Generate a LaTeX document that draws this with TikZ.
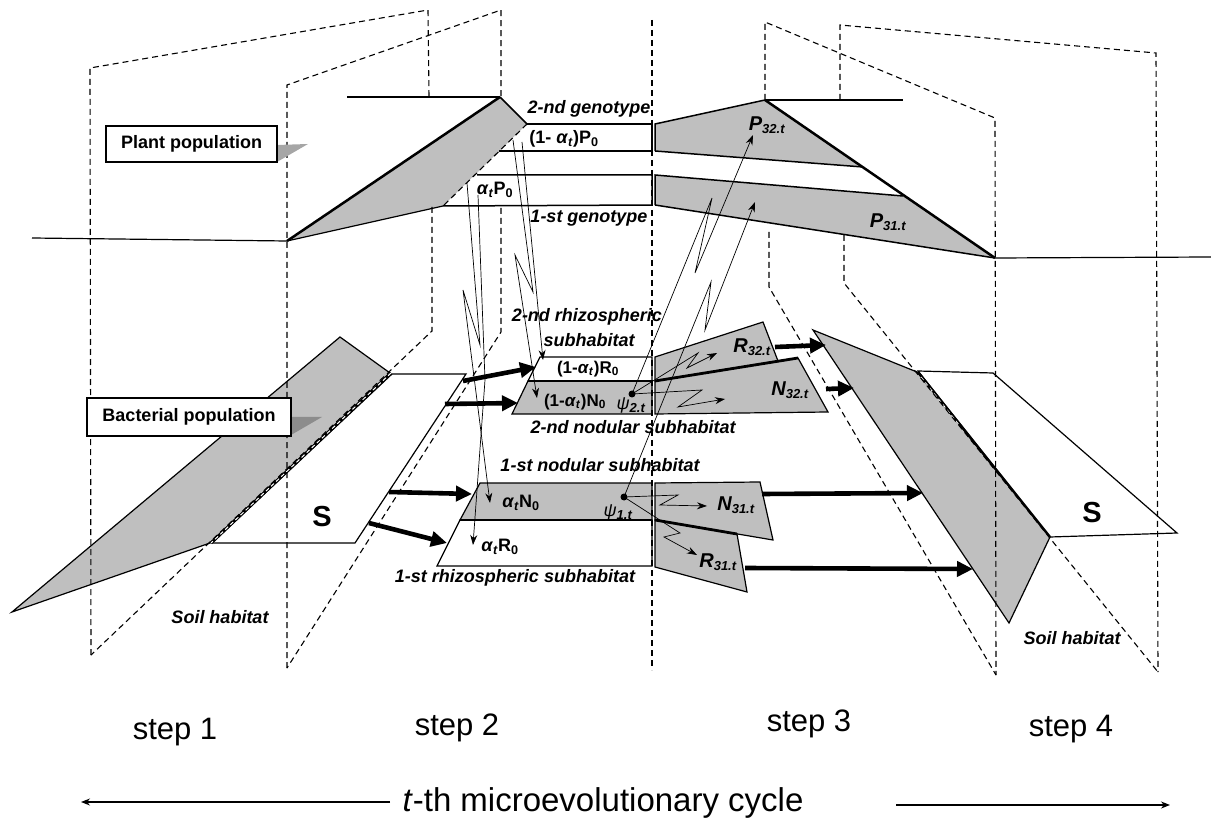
\documentclass[tikz,border=0pt]{standalone}
\usepackage{fontspec}
\setmainfont{Liberation Sans}
\usetikzlibrary{arrows.meta}
\newcommand{\al}{\textit{α}\textsubscript{\textit{t}}}
\newcommand{\sbz}[1]{\textsubscript{#1}}
\newcommand{\bsub}[1]{\textsubscript{\fontsize{13}{14}\selectfont #1}}
\begin{document}
\begin{tikzpicture}[x=1pt,y=-1pt,
  dsh/.style={dash pattern=on 6pt off 4pt, line width=1.1pt},
  pl/.style={line width=1.2pt},
  gr/.style={fill=black!25, draw=black, line width=1.2pt},
  wh/.style={fill=white, draw=black, line width=1.2pt},
  thk/.style={line width=2.5pt},
  sep/.style={line width=2.8pt},
  bigarrow/.style={line width=4.6pt, -{Triangle[length=16pt,width=15pt]}},
  thinarrow/.style={line width=0.7pt, -{Stealth[length=10pt,width=7pt]}},
  lbl/.style={font=\bfseries\itshape\fontsize{18}{20}\selectfont, inner sep=0pt},
  val/.style={font=\bfseries\fontsize{18}{20}\selectfont, inner sep=0pt},
  big/.style={font=\bfseries\itshape\fontsize{20}{22}\selectfont, inner sep=0pt},
  stp/.style={font=\fontsize{31}{34}\selectfont, inner sep=0pt},
  box/.style={draw, fill=white, line width=1.2pt, font=\bfseries\fontsize{18}{20}\selectfont}]
\useasboundingbox (0,0) rectangle (1211,826);

% ---------- plant plane, left ----------
\draw[pl] (32,238) -- (287,241);
\fill[black!25] (287,241) -- (500,97) -- (527,124) -- (443,206) -- cycle;
\draw[pl] (443,206) -- (287,241);
\draw[thk] (287,241) -- (500,97);
\draw[line width=1.6pt] (500,97) -- (527,124);
\draw[pl] (347,97) -- (500,97);
\draw[dsh] (527,124) -- (443,206);
\draw[line width=1.5pt] (527,124) -- (652,124) -- (652,151) -- (499,151);
\draw[line width=1.5pt] (477,175) -- (652,175) -- (652,205) -- (443,206);

% ---------- plant plane, right ----------
\fill[black!25] (655,124) -- (765,100) -- (863,167) -- (655,151) -- cycle;
\draw[line width=1.5pt] (655,151) -- (655,124) -- (765,100);
\draw[line width=1.5pt] (655,151) -- (863,167);
\fill[black!25] (655,175) -- (903,196) -- (995,258) -- (655,205) -- cycle;
\draw[line width=1.5pt] (655,205) -- (655,175) -- (903,196);
\draw[line width=1.5pt] (655,205) -- (995,258);
\draw[thk] (765,100) -- (995,258);
\draw[pl] (765,100) -- (903,100);
\draw[pl] (995,258) -- (1211,257);

% ---------- bacterial plane, left ----------
\draw[gr] (12,612) -- (340,337) -- (390,373) -- (210,543) -- cycle;
\draw[wh] (212,543) -- (392,374) -- (466,374) -- (355,543) -- cycle;
\draw[line width=3pt] (391,373) -- (211,543);
\draw[white, line width=1pt, dash pattern=on 4pt off 3pt] (391,373) -- (211,543);

% ---------- bacterial plane, right ----------
\draw[gr] (813,330) -- (917,372) -- (1050,537) -- (1009,623) -- cycle;
\draw[wh] (918,371) -- (993,373) -- (1177,533) -- (1050,537) -- cycle;
\draw[line width=2.4pt] (918,372) -- (1050,537);
\draw[white, line width=0.8pt, dash pattern=on 4pt off 3pt] (921,377) -- (960,426);

% ---------- subhabitats ----------
\draw[wh] (540,357) -- (652,357) -- (652,381) -- (528,381) -- cycle;
\draw[gr] (528,381) -- (652,381) -- (652,414) -- (512,414) -- cycle;
\draw[sep] (528,381) -- (652,381);
\draw[gr] (480,483) -- (652,483) -- (652,520) -- (460,520) -- cycle;
\draw[wh] (460,520) -- (652,520) -- (652,566) -- (437,566) -- cycle;
\draw[sep] (460,520) -- (652,520);

\draw[gr] (655,357) -- (763,322) -- (778,361) -- (655,381) -- cycle;
\draw[gr] (655,381) -- (798,358) -- (828,412) -- (655,414) -- cycle;
\draw[sep] (655,381) -- (798,358);
\draw[gr] (655,483) -- (760,482) -- (773,540) -- (655,520) -- cycle;
\draw[gr] (655,520) -- (737,534) -- (747,592) -- (655,567) -- cycle;
\draw[sep] (655,520) -- (737,534);

% ---------- thick arrows ----------
\draw[bigarrow] (463,381) -- (536,367);
\draw[bigarrow] (445,404) -- (518,403);
\draw[bigarrow] (389,492) -- (472,494);
\draw[bigarrow] (369,523) -- (447,543);
\draw[bigarrow] (775,347) -- (826,345);
\draw[bigarrow] (826,389) -- (854,388);
\draw[bigarrow] (762,494) -- (923,493);
\draw[bigarrow] (745,568) -- (973,569);

% ---------- thin zigzag arrows ----------
\draw[thinarrow] (513,140) -- (533,292) -- (515,255) -- (537,398);
\draw[thinarrow] (522,142) -- (543,360);
\draw[thinarrow] (467,183) -- (480,345) -- (463,290) -- (490,503);
\draw[thinarrow] (478,195) -- (485,380) -- (473,545);
\draw[thinarrow] (632,394) -- (712,198) -- (695,273) -- (753,135);
\draw[thinarrow] (624,497) -- (711,282) -- (705,330) -- (755,202);
\draw[thinarrow] (632,394) -- (698,353) -- (687,368) -- (717,353);
\draw[thinarrow] (632,394) -- (702,390) -- (678,407) -- (725,399);
\draw[thinarrow] (624,497) -- (678,495) -- (660,505) -- (707,506);
\draw[thinarrow] (624,497) -- (680,533) -- (664,537) -- (697,555);
\fill (632,394) circle (3.5pt);
\fill (624,497) circle (3.5pt);

% ---------- dashed frames ----------
\draw[dsh] (91,655) -- (90,68) -- (428,10) -- (429,97);
\draw[dsh] (432,207) -- (432,331) -- (91,655);
\draw[dsh] (287,668) -- (287,85) -- (501,10) -- (501,97);
\draw[dsh] (501,208) -- (501,332) -- (287,668);
\draw[dsh] (652,20) -- (652,670);
\draw[dsh] (765,100) -- (765,22) -- (995,118) -- (996,675);
\draw[dsh] (769,232) -- (769,287) -- (996,675);
\draw[dsh] (840,100) -- (840,25) -- (1156,53) -- (1158,672);
\draw[dsh] (844,235) -- (844,283) -- (1158,672);

% ---------- population labels ----------
\fill[black!35] (277,145) -- (308,144) -- (277,162) -- cycle;
\node[box, minimum width=171pt, minimum height=36pt] (plant) at (191.5,144) {Plant population};
\fill[black!45] (291,417) -- (322,417) -- (291,435) -- cycle;
\node[box, minimum width=204pt, minimum height=38pt] (bact) at (189,417) {Bacterial population};

% ---------- texts ----------
\node[lbl] (g2) at (589,109) {2-nd genotype};
\node[val] (p2) at (564,139) {(1- \al)P\sbz{0}};
\node[val] (p1) at (495,190) {\al P\sbz{0}};
\node[lbl] (g1) at (589,218) {1-st genotype};
\node[big] (P32) at (767,125) {P\bsub{32.t}};
\node[big] (P31) at (888,222) {P\bsub{31.t}};

\node[lbl] (rh2a) at (587,317) {2-nd rhizospheric};
\node[lbl] (rh2b) at (589,340) {subhabitat};
\node[val, font=\bfseries\fontsize{17}{19}\selectfont] (R20) at (588,369) {(1-\al)R\sbz{0}};
\node[val, font=\bfseries\fontsize{17}{19}\selectfont] (N20) at (575,402) {(1-\al)N\sbz{0}};
\node[lbl, font=\itshape\fontsize{18}{20}\selectfont] (psi2) at (631,405) {ψ\textbf{\bsub{2.t}}};
\node[lbl] (nod2) at (633,427) {2-nd nodular subhabitat};
\node[lbl] (nod1) at (600,465) {1-st nodular subhabitat};
\node[val] (N10) at (521,503) {\al N\sbz{0}};
\node[lbl, font=\itshape\fontsize{18}{20}\selectfont] (psi1) at (618,512) {ψ\textbf{\bsub{1.t}}};
\node[val] (R10) at (500,547) {\al R\sbz{0}};
\node[lbl] (rh1) at (515,578) {1-st rhizospheric subhabitat};

\node[big] (R32) at (752,347) {R\bsub{32.t}};
\node[big] (N32) at (790,390) {N\bsub{32.t}};
\node[big] (N31) at (736,505) {N\bsub{31.t}};
\node[big] (R31) at (718,562) {R\bsub{31.t}};

\node[font=\bfseries\fontsize{29}{31}\selectfont, inner sep=0pt] (S1) at (322,517) {S};
\node[font=\bfseries\fontsize{29}{31}\selectfont, inner sep=0pt] (S2) at (1092,513) {S};
\node[lbl] (soil1) at (220,617) {Soil habitat};
\node[lbl] (soil2) at (1072,638) {Soil habitat};

\node[stp] (s1) at (175,732) {step 1};
\node[stp] (s2) at (457,728) {step 2};
\node[stp] (s3) at (809,724) {step 3};
\node[stp] (s4) at (1071,729) {step 4};

\node[stp, font=\fontsize{33}{36}\selectfont] (cyc) at (603,803) {\textit{t}-th microevolutionary cycle};
\coordinate (la) at (81,802);
\coordinate (lb) at (390,802);
\coordinate (ra) at (1170,805);
\coordinate (rb) at (896,805);
\draw[line width=1.2pt, -{Stealth[length=9pt,width=7pt]}] (lb) -- (la);
\draw[line width=1.2pt, -{Stealth[length=9pt,width=7pt]}] (rb) -- (ra);
\end{tikzpicture}
\end{document}
